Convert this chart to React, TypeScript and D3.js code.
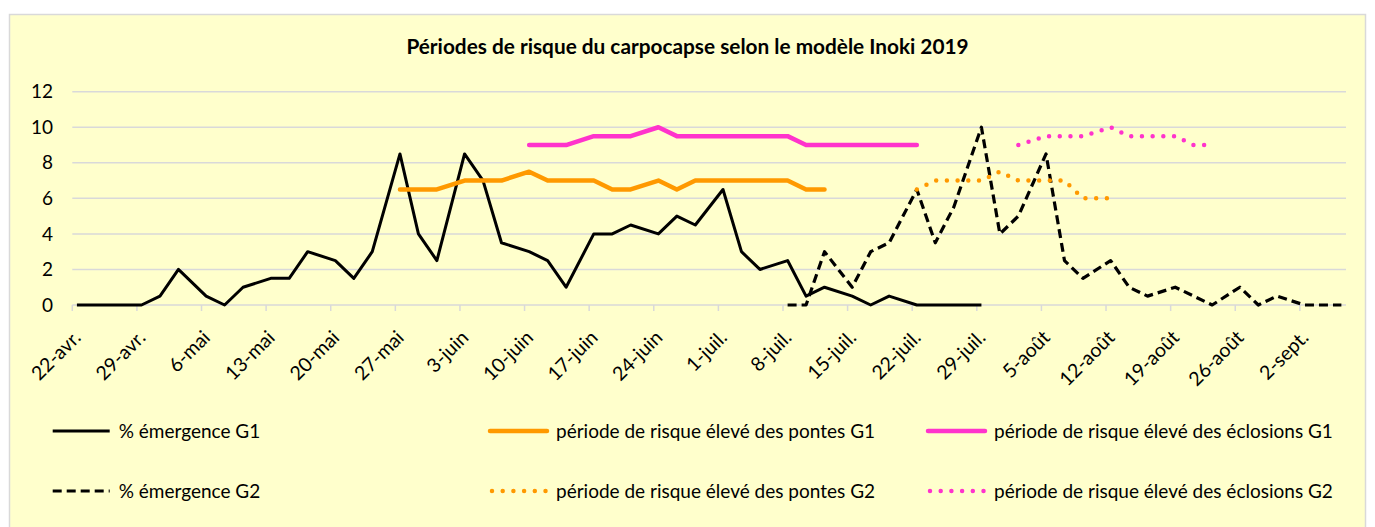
import React from 'react';
import * as d3 from 'd3';

// ---------- DATA ----------
const START = new Date(2019, 3, 22);
const END = new Date(2019, 8, 7);
// observation dates (Mon / Wed / Fri), 22-avr. → 6-sept.
const obsDates: Date[] = d3.timeDay.range(START, END).filter(d => [1, 3, 5].includes(d.getDay()));

const tickLabels = [
  '22-avr.', '29-avr.', '6-mai', '13-mai', '20-mai', '27-mai', '3-juin', '10-juin', '17-juin', '24-juin',
  '1-juil.', '8-juil.', '15-juil.', '22-juil.', '29-juil.', '5-août', '12-août', '19-août', '26-août', '2-sept.',
];
const yTicks = [0, 2, 4, 6, 8, 10, 12];

const N = null;
const emergenceG1 = [
  0, 0, 0, 0, 0.5, 2, 0.5, 0, 1, 1.5, 1.5, 3, 2.5, 1.5, 3, 8.5, 4, 2.5, 8.5, 7, 3.5,
  3, 2.5, 1, 4, 4, 4.5, 4, 5, 4.5, 6.5, 3, 2, 2.5, 0.5, 1, 0.5, 0, 0.5, 0, 0, 0, 0,
  N, N, N, N, N, N, N, N, N, N, N, N, N, N, N, N, N,
];
const pontesG1 = [
  N, N, N, N, N, N, N, N, N, N, N, N, N, N, N,
  6.5, 6.5, 6.5, 7, 7, 7, 7.5, 7, 7, 7, 6.5, 6.5, 7, 6.5, 7, 7, 7, 7, 7, 6.5, 6.5,
  N, N, N, N, N, N, N, N, N, N, N, N, N, N, N, N, N, N, N, N, N, N, N, N,
];
const eclosionsG1 = [
  N, N, N, N, N, N, N, N, N, N, N, N, N, N, N, N, N, N, N, N, N,
  9, 9, 9, 9.5, 9.5, 9.5, 10, 9.5, 9.5, 9.5, 9.5, 9.5, 9.5, 9, 9, 9, 9, 9, 9,
  N, N, N, N, N, N, N, N, N, N, N, N, N, N, N, N, N, N, N, N,
];
const emergenceG2 = [
  N, N, N, N, N, N, N, N, N, N, N, N, N, N, N, N, N, N, N, N, N, N, N, N, N, N, N, N, N, N, N, N, N,
  0, 0, 3, 1, 3, 3.5, 6.5, 3.5, 5.5, 10, 4, 5, 8.5, 2.5, 1.5, 2.5, 1, 0.5, 1, 0.5, 0, 1, 0, 0.5, 0, 0, 0,
];
const pontesG2 = [
  N, N, N, N, N, N, N, N, N, N, N, N, N, N, N, N, N, N, N, N, N, N, N, N, N, N, N, N, N, N, N, N, N, N, N, N, N, N, N,
  6.5, 7, 7, 7, 7.5, 7, 7, 7, 6, 6,
  N, N, N, N, N, N, N, N, N, N, N,
];
const eclosionsG2 = [
  N, N, N, N, N, N, N, N, N, N, N, N, N, N, N, N, N, N, N, N, N, N, N, N, N, N, N, N, N, N, N, N, N, N, N, N, N, N, N, N, N, N, N, N,
  9, 9.5, 9.5, 9.5, 10, 9.5, 9.5, 9.5, 9, 9,
  N, N, N, N, N, N,
];

const title = 'Périodes de risque du carpocapse selon le modèle Inoki 2019';

// ---------- STYLE ----------
const W = 1375;
const H = 527;
const FONT = 'Lato, "Open Sans", sans-serif';
const BG = '#FFFFCC';
const GRID = '#D9D9D9';
const ORANGE = '#FF9900';
const PINK = '#FF33CC';

type Serie = { name: string; values: (number | null)[]; color: string; width: number; dash?: string; cap: string };
const series: Serie[] = [
  { name: '% émergence G1', values: emergenceG1, color: '#000', width: 3, cap: 'butt' },
  { name: 'période de risque élevé des pontes G1', values: pontesG1, color: ORANGE, width: 4.5, cap: 'round' },
  { name: 'période de risque élevé des éclosions G1', values: eclosionsG1, color: PINK, width: 4.5, cap: 'round' },
  { name: '% émergence G2', values: emergenceG2, color: '#000', width: 3.2, dash: '9,5', cap: 'butt' },
  { name: 'période de risque élevé des pontes G2', values: pontesG2, color: ORANGE, width: 4.5, dash: '0,10.7', cap: 'round' },
  { name: 'période de risque élevé des éclosions G2', values: eclosionsG2, color: PINK, width: 4.5, dash: '0,10.7', cap: 'round' },
];

export default function App() {
  const x = d3.scaleTime().domain([START, END]).range([72.3, 1346]);
  const y = d3.scaleLinear().domain([0, 12]).range([305, 91.7]);
  const xp = (d: Date) => x(d3.timeHour.offset(d, 12));
  const ticks = d3.timeMonday.range(START, END);

  const line = d3
    .line<[Date, number | null]>()
    .defined(p => p[1] != null)
    .x(p => xp(p[0]))
    .y(p => y(p[1] as number));

  const legendCols = [52.7, 490, 928];
  const legendRows = [431, 491];

  return (
    <>
      <style>{`body{margin:0}`}</style>
      <svg width={W} height={H} style={{ display: 'block', fontFamily: FONT }}>
        <rect x={0} y={0} width={W} height={H} fill="#fff" />
        <rect x={9.5} y={14.5} width={1356} height={520} fill={BG} stroke={GRID} strokeWidth={1.5} />
        <text x={687.5} y={47} dy="0.35em" textAnchor="middle" fontWeight="bold" fontSize={20.8} fill="#000">
          {title}
        </text>
        {/* gridlines */}
        {yTicks.map(t => (
          <g key={t}>
            <line x1={72.3} x2={1346} y1={y(t)} y2={y(t)} stroke={GRID} strokeWidth={1.5} />
            <text x={53} y={y(t)} dy="0.35em" textAnchor="end" fontSize={19} fill="#000">
              {t}
            </text>
          </g>
        ))}
        {/* x ticks */}
        {ticks.map((t, i) => (
          <g key={i}>
            <line x1={x(t)} x2={x(t)} y1={305} y2={311} stroke={GRID} strokeWidth={1.5} />
            <text
              transform={`translate(${x(t) + 5},${334}) rotate(-45)`}
              dy="0.35em"
              textAnchor="end"
              fontSize={19.5}
              fill="#000"
            >
              {tickLabels[i]}
            </text>
          </g>
        ))}
        {/* series */}
        {series.map((s, i) => (
          <path
            key={i}
            d={line(obsDates.map((d, j) => [d, s.values[j]] as [Date, number | null])) || ''}
            fill="none"
            stroke={s.color}
            strokeWidth={s.width}
            strokeDasharray={s.dash}
            strokeLinecap={s.cap as any}
            strokeLinejoin="round"
          />
        ))}
        {/* legend */}
        {series.map((s, i) => {
          const lx = legendCols[i % 3];
          const ly = legendRows[Math.floor(i / 3)];
          const dotted = s.dash && s.dash.startsWith('0');
          return (
            <g key={i}>
              <line
                x1={lx + (dotted ? 2 : 0)}
                x2={lx + 57}
                y1={ly}
                y2={ly}
                stroke={s.color}
                strokeWidth={s.width}
                strokeDasharray={s.dash}
                strokeLinecap={s.cap as any}
              />
              <text x={lx + 66} y={ly} dy="0.35em" fontSize={19} fill="#000">
                {s.name}
              </text>
            </g>
          );
        })}
      </svg>
    </>
  );
}
